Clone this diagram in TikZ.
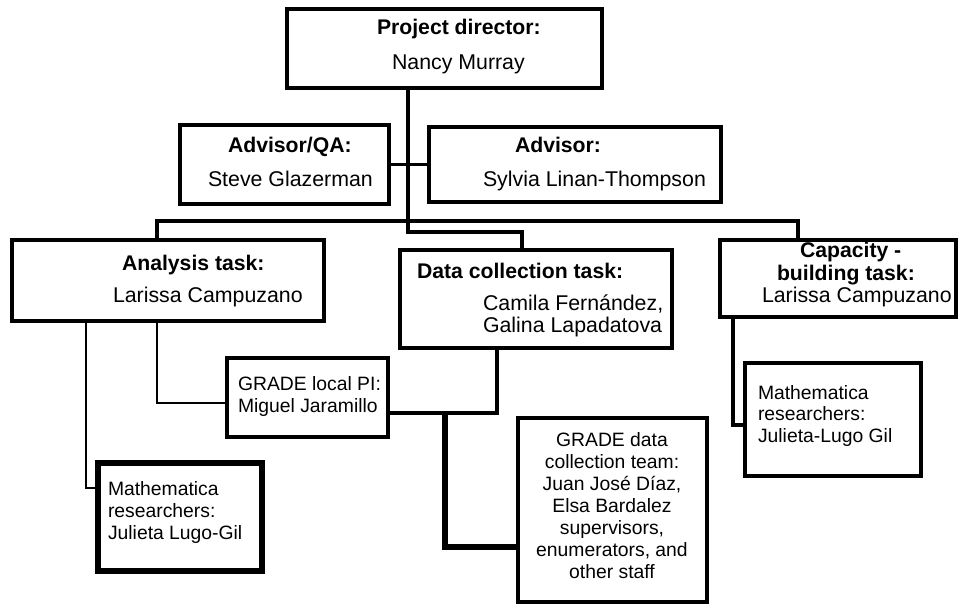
\documentclass[tikz,border=0pt]{standalone}
\usepackage{fontspec}
\setmainfont{Liberation Sans}
\tikzset{
  x=0.75pt, y=-0.75pt,
  box/.style={draw, line width=3pt, inner sep=0pt, fill=white},
  thickbox/.style={box, line width=4pt},
  conn/.style={line width=2.6pt},
  thinconn/.style={line width=2pt},
  thickconn/.style={line width=5.2pt},
  txt/.style={inner sep=0pt, outer sep=0pt, font=\fontsize{14.5}{17}\selectfont},
  ltxt/.style={inner sep=0pt, outer sep=0pt, font=\fontsize{16}{19}\selectfont},
  btxt/.style={inner sep=0pt, outer sep=0pt, font=\fontsize{15.9}{19}\selectfont\bfseries},
}
\newcommand\tl[4]{\node[txt, anchor=base west] (#1) at (#2,#3) {#4};}
\newcommand\tL[4]{\node[ltxt, anchor=base west] (#1) at (#2,#3) {#4};}
\newcommand\tb[4]{\node[btxt, anchor=base west] (#1) at (#2,#3) {#4};}
\newcommand\tc[4]{\node[txt, anchor=base] (#1) at (#2,#3) {#4};}
\begin{document}
\begin{tikzpicture}
\useasboundingbox (0,0) rectangle (960,606);
\fill[white] (0,0) rectangle (960,606);

% boxes
\node[box, minimum width=315*0.75pt, minimum height=79*0.75pt] (dir) at (444.5,48.5) {};
\node[box, minimum width=209*0.75pt, minimum height=79*0.75pt] (qa) at (284.5,164.5) {};
\node[box, minimum width=292*0.75pt, minimum height=75*0.75pt] (adv) at (575,164.5) {};
\node[box, minimum width=312*0.75pt, minimum height=81*0.75pt] (ana) at (168,280.5) {};
\node[box, minimum width=272*0.75pt, minimum height=98*0.75pt] (dc) at (536,299) {};
\node[box, minimum width=236*0.75pt, minimum height=77*0.75pt] (cap) at (838,278.5) {};
\node[box, minimum width=161*0.75pt, minimum height=79*0.75pt] (pi) at (307.5,397.5) {};
\node[thickbox, minimum width=164*0.75pt, minimum height=108*0.75pt] (mmL) at (180,517) {};
\node[box, minimum width=189*0.75pt, minimum height=184*0.75pt] (gdc) at (612.5,510) {};
\node[box, minimum width=176*0.75pt, minimum height=113*0.75pt] (mmR) at (833,419.5) {};

% junction coordinates
\coordinate (j1) at (408,232);
\coordinate (k1) at (522,0);
\coordinate (bl) at (157,221);
\coordinate (br) at (798,221);
\coordinate (a1) at (86,488);
\coordinate (a2) at (157,403);
\coordinate (d1) at (497,413);
\coordinate (t1) at (445,547);
\coordinate (c1) at (733,425);

% connectors
\draw[conn] (j1 |- dir.south) -- (j1) -| (k1 |- dc.north);
\draw[conn] (qa.east) -- (adv.west);
\draw[conn] (bl |- ana.north) -- (bl) -- (br) -- (br |- cap.north);
\draw[thinconn] (a1 |- ana.south) |- (a1 -| mmL.west);
\draw[thinconn] (a2 |- ana.south) |- (a2 -| pi.west);
\draw[conn] (d1 |- dc.south) |- (d1 -| pi.east);
\draw[thickconn] (t1 |- d1) |- (t1 -| gdc.west);
\draw[conn] (c1 |- cap.south) |- (c1 -| mmR.west);

% texts
\tb{tdir1}{377}{35}{Project director:}
\tL{tdir2}{392}{70}{Nancy Murray}
\tb{tqa1}{228}{153}{Advisor/QA:}
\tL{tqa2}{208}{186}{Steve Glazerman}
\tb{tadv1}{515}{153}{Advisor:}
\tL{tadv2}{483}{186}{Sylvia Linan-Thompson}
\tb{tana1}{122}{270}{Analysis task:}
\tL{tana2}{113}{302}{Larissa Campuzano}
\tb{tdc1}{417}{278}{Data collection task:}
\tL{tdc2}{483}{310}{Camila Fernández,}
\tL{tdc3}{483}{332}{Galina Lapadatova}
\tb{tcap1}{800}{257}{Capacity -}
\tb{tcap2}{777}{280}{building task:}
\tL{tcap3}{762}{302}{Larissa Campuzano}
\tl{tpi1}{238}{390}{GRADE local PI:}
\tl{tpi2}{238}{412}{Miguel Jaramillo}
\tl{tmL1}{108}{495}{Mathematica}
\tl{tmL2}{108}{517}{researchers:}
\tl{tmL3}{108}{539}{Julieta Lugo-Gil}
\tl{tmR1}{758}{399}{Mathematica}
\tl{tmR2}{758}{420.5}{researchers:}
\tl{tmR3}{758}{442}{Julieta-Lugo Gil}
\tc{tg1}{612}{446}{GRADE data}
\tc{tg2}{612}{468}{collection team:}
\tc{tg3}{612}{490}{Juan José Díaz,}
\tc{tg4}{612}{512}{Elsa Bardalez}
\tc{tg5}{612}{534}{supervisors,}
\tc{tg6}{612}{556}{enumerators, and}
\tc{tg7}{612}{578}{other staff}
\end{tikzpicture}
\end{document}
